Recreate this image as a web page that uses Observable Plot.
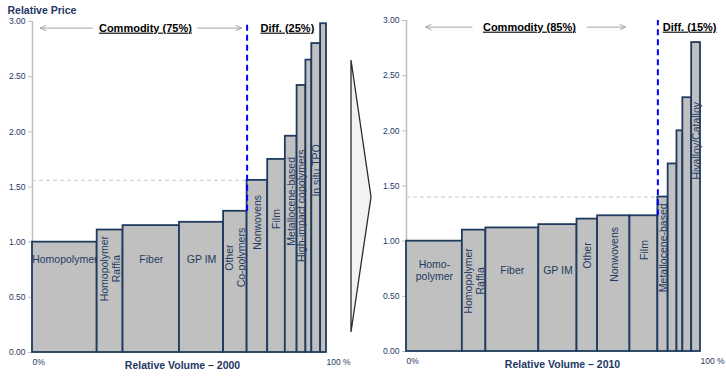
<!DOCTYPE html>
<html><head><meta charset="utf-8">
<script src="https://cdn.jsdelivr.net/npm/d3@7"></script>
<script src="https://cdn.jsdelivr.net/npm/@observablehq/plot@0.6"></script>
<style>
html,body{margin:0;padding:0;background:#fff;}
#wrap{position:relative;width:726px;height:380px;overflow:hidden;}
#wrap .p{position:absolute;top:0;}
#chev{position:absolute;left:0;top:0;pointer-events:none;}
</style></head><body><div id="wrap"></div>
<script>
// ---------- 2000 ----------
const categories2000 = ["Homopolymer","Homopolymer Raffia","Fiber","GP IM","Other Co-polymers","Nonwovens","Film","Metallocene-based","High-impact copolymers","Diff. other A","In situ TPO","Diff. other B"];
const volume2000 = [22, 8.8, 19.2, 15, 8, 7, 6, 4, 3, 2, 3, 2];          // % of volume
const price2000  = [1.00, 1.11, 1.15, 1.18, 1.28, 1.56, 1.75, 1.96, 2.42, 2.65, 2.80, 2.98];
const labels2000 = ["Homopolymer","Homopolymer\nRaffia","Fiber","GP IM","Other\nCo-polymers","Nonwovens","Film","Metallocene-based","High-impact copolymers","","In situ TPO",""];
const labelVertical2000 = [false,true,false,false,true,true,true,true,true,false,true,false];
const labelLevel2000 = [0.85, 0.76, 0.85, 0.85, 0.86, 1.18, 1.21, 1.37, 1.33, 0, 1.65, 0];
const commodityShare2000 = "Commodity (75%)";
const diffShare2000 = "Diff. (25%)";

// ---------- 2010 ----------
const categories2010 = ["Homopolymer","Homopolymer Raffia","Fiber","GP IM","Other","Nonwovens","Film","Metallocene-based","Diff. other A","Diff. other B","Diff. other C","Hivalloy/Catalloy"];
const volume2010 = [19, 8, 18, 13, 7, 11, 9.5, 3.5, 3, 2, 3, 3];
const price2010  = [1.00, 1.10, 1.12, 1.15, 1.20, 1.23, 1.23, 1.40, 1.70, 2.00, 2.30, 2.80];
const labels2010 = ["Homo-\npolymer","Homopolymer\nRaffia","Fiber","GP IM","Other","Nonwovens","Film","Metallocene-based","","","","Hivalloy/Catalloy"];
const labelVertical2010 = [false,true,false,false,true,true,true,true,false,false,false,true];
const labelLevel2010 = [0.74, 0.64, 0.74, 0.74, 0.87, 0.88, 0.92, 0.94, 0, 0, 0, 1.91];
const commodityShare2010 = "Commodity (85%)";
const diffShare2010 = "Diff. (15%)";

const yTicks = [0, 0.5, 1, 1.5, 2, 2.5, 3];
const xTickLabels = [{v: 0, t: "0%"}, {v: 100, t: "100 %"}];

const NAVY = "#1f3864";
const FONT = "'Liberation Sans', Arial, sans-serif";

function buildBars(cats, vols, prices, labels, vert, lvl) {
  let s = 0;
  return cats.map((c, i) => {
    const x1 = s; s += vols[i];
    return {cat: c, x1, x2: s, xm: (x1 + s) / 2, price: prices[i], label: labels[i], vertical: vert[i], ly: lvl[i]};
  });
}

function chart({bars, title, commodity, diff, diffIndex, left, width, marginLeft, marginRight, marginTop, marginBottom,
                commodityX, diffX, arrowL, arrowR, titleDx, showYTitle}) {
  const diffStart = bars[diffIndex].x1;
  const refPrice = bars[diffIndex].price;
  const lastCommodity = bars[diffIndex - 1].price;
  const marks = [
    Plot.ruleX([0], {y1: 0, y2: 3, stroke: "#bfbfbf", strokeWidth: 1.5}),
    Plot.axisY({ticks: yTicks, tickFormat: d3.format(".2f"), tickSize: 4, tickPadding: 3, stroke: "#bfbfbf", fill: NAVY, fontSize: 8.5, label: null}),
    Plot.ruleY([refPrice], {x1: 0, x2: diffStart, stroke: "#c8c8c8", strokeDasharray: "4,3", strokeWidth: 1}),
    Plot.rect(bars, {x1: "x1", x2: "x2", y1: 0, y2: "price", fill: "#c0c0c0", stroke: "#1f3b5f", strokeWidth: 1.8}),
    Plot.ruleX([diffStart], {y1: lastCommodity, y2: 3, stroke: "#0000ff", strokeWidth: 2, strokeDasharray: "6,4"}),
    Plot.text(bars.filter(d => d.label && !d.vertical), {x: "xm", y: "ly", text: "label", fill: "#1f3b5f", fontSize: 10.5, lineHeight: 1.15}),
    Plot.text(bars.filter(d => d.label && d.vertical), {x: "xm", y: "ly", text: "label", rotate: -90, fill: "#1f3b5f", fontSize: 10.5, lineHeight: 1.15}),
    Plot.text(xTickLabels, {x: "v", y: 0, text: "t", textAnchor: "start", lineAnchor: "top", dy: 6, fill: NAVY, fontSize: 8.5}),
    Plot.text([title], {frameAnchor: "bottom", dy: 16, dx: titleDx, fontWeight: "bold", fontSize: 10.5, fill: NAVY}),
    Plot.arrow([arrowL, arrowR], {x1: "from", x2: "to", y1: 2.94, y2: 2.94, stroke: "#a6a6a6", strokeWidth: 1, headLength: 9, headAngle: 50}),
    Plot.text([commodity], {x: commodityX, y: 2.94, fontWeight: "bold", fontSize: 11, fill: "#000"}),
    Plot.text([diff], {x: diffX, y: 2.94, fontWeight: "bold", fontSize: 11, fill: "#000"})
  ];
  if (showYTitle) {
    marks.push(Plot.text(["Relative Price"], {frameAnchor: "top-left", dx: -25, dy: -11, textAnchor: "start", lineAnchor: "middle", fontWeight: "bold", fontSize: 10.5, fill: NAVY}));
  }
  const svg = Plot.plot({
    width, height: 380, marginLeft, marginRight, marginTop, marginBottom,
    x: {domain: [0, 100], axis: null},
    y: {domain: [0, 3], axis: null},
    style: {fontFamily: FONT, overflow: "visible", background: "transparent"},
    marks
  });
  svg.classList.add("p");
  svg.style.left = left + "px";
  d3.select(svg).selectAll("text")
    .filter(function() { const t = this.textContent; return t === commodity || t === diff; })
    .attr("text-decoration", "underline")
    .style("text-decoration", "underline");
  return svg;
}

const wrap = document.getElementById("wrap");
const bars2000 = buildBars(categories2000, volume2000, price2000, labels2000, labelVertical2000, labelLevel2000);
const bars2010 = buildBars(categories2010, volume2010, price2010, labels2010, labelVertical2010, labelLevel2010);

wrap.appendChild(chart({
  bars: bars2000, title: "Relative Volume \u2013 2000", commodity: commodityShare2000, diff: diffShare2000, diffIndex: 5,
  left: 0, width: 363, marginLeft: 32, marginRight: 37, marginTop: 21, marginBottom: 28,
  commodityX: 38.4, diffX: 86.7, arrowL: {from: 20.4, to: 2.7}, arrowR: {from: 56.1, to: 71.1}, titleDx: 3, showYTitle: true
}));
wrap.appendChild(chart({
  bars: bars2010, title: "Relative Volume \u2013 2010", commodity: commodityShare2010, diff: diffShare2010, diffIndex: 7,
  left: 363, width: 363, marginLeft: 43, marginRight: 26, marginTop: 20, marginBottom: 29,
  commodityX: 41.8, diffX: 96.3, arrowL: {from: 22.3, to: 6.5}, arrowR: {from: 61.5, to: 74.5}, titleDx: 9, showYTitle: false
}));

// decorative transition chevron between the two panels
const chev = d3.create("svg").attr("id", "chev").attr("width", 726).attr("height", 380);
chev.append("polygon").attr("points", "351,60 371,197 351,332")
  .attr("fill", "#f2f2f2").attr("stroke", "#2b2b2b").attr("stroke-width", 1.3).attr("stroke-linejoin", "miter");
wrap.appendChild(chev.node());
</script></body></html>
